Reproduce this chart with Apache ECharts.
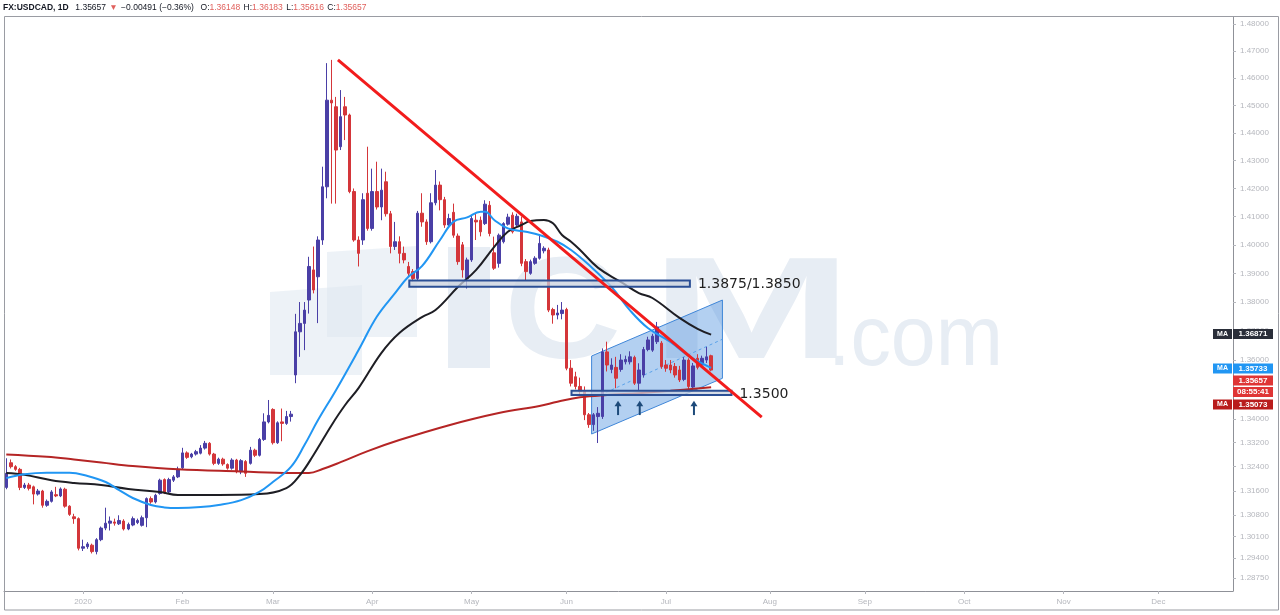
<!DOCTYPE html>
<html><head><meta charset="utf-8">
<script src="https://cdn.jsdelivr.net/npm/echarts@6.0.0/dist/echarts.min.js"></script>
<style>html,body{margin:0;padding:0;background:#fff}#c{width:1280px;height:615px}</style>
</head><body><div id="c"></div>
<script>
// ---------- DATA ----------
const firstDay = '2019-12-06', lastDay = '2020-12-23';
const holidays = ['2019-12-25', '2020-01-01'];
const monthNames = ['2020','Feb','Mar','Apr','May','Jun','Jul','Aug','Sep','Oct','Nov','Dec'];
const tickPrices = [1.48,1.47,1.46,1.45,1.44,1.43,1.42,1.41,1.40,1.39,1.38,1.37,1.36,1.35,1.34,1.332,1.324,1.316,1.308,1.301,1.294,1.2875];
// daily candles [open, close, low, high]
const ohlc = [
[1.3171,1.3218,1.3165,1.3268],[1.3253,1.3240,1.3234,1.3264],[1.3240,1.3231,1.3226,1.3245],[1.3231,1.3171,1.3162,1.3236],
[1.3171,1.3179,1.3166,1.3186],[1.3179,1.3168,1.3161,1.3186],[1.3173,1.3149,1.3115,1.3177],[1.3149,1.3159,1.3144,1.3166],
[1.3159,1.3112,1.3104,1.3163],[1.3112,1.3125,1.3107,1.3131],[1.3125,1.3156,1.3121,1.3162],[1.3147,1.3143,1.3139,1.3173],
[1.3143,1.3166,1.3139,1.3171],[1.3165,1.3109,1.3104,1.3170],[1.3109,1.3082,1.3077,1.3112],[1.3074,1.3068,1.3051,1.3084],
[1.3068,1.2971,1.2964,1.3072],[1.2971,1.2976,1.2962,1.2999],[1.2976,1.2985,1.2969,1.2991],[1.2981,1.2960,1.2954,1.2986],
[1.2960,1.2999,1.2951,1.3004],[1.2999,1.3037,1.2994,1.3042],[1.3037,1.3053,1.3030,1.3104],[1.3053,1.3060,1.3029,1.3075],
[1.3057,1.3053,1.3045,1.3068],[1.3051,1.3062,1.3047,1.3079],[1.3060,1.3034,1.3029,1.3066],[1.3034,1.3049,1.3030,1.3055],
[1.3047,1.3068,1.3043,1.3075],[1.3055,1.3062,1.3050,1.3068],[1.3046,1.3071,1.3042,1.3078],[1.3071,1.3134,1.3040,1.3138],
[1.3134,1.3123,1.3117,1.3141],[1.3123,1.3145,1.3118,1.3150],[1.3151,1.3195,1.3147,1.3200],[1.3197,1.3153,1.3149,1.3201],
[1.3156,1.3197,1.3151,1.3203],[1.3195,1.3206,1.3189,1.3212],[1.3206,1.3231,1.3202,1.3240],
[1.3236,1.3286,1.3231,1.3303],[1.3286,1.3271,1.3266,1.3291],[1.3273,1.3282,1.3268,1.3286],[1.3282,1.3290,1.3277,1.3296],
[1.3285,1.3302,1.3281,1.3312],[1.3302,1.3318,1.3297,1.3326],[1.3318,1.3282,1.3277,1.3322],[1.3282,1.3251,1.3245,1.3286],
[1.3251,1.3265,1.3246,1.3270],[1.3265,1.3249,1.3243,1.3270],[1.3247,1.3235,1.3230,1.3251],[1.3235,1.3262,1.3230,1.3268],
[1.3262,1.3223,1.3218,1.3266],[1.3223,1.3260,1.3215,1.3265],[1.3257,1.3218,1.3206,1.3262],[1.3251,1.3295,1.3247,1.3306],
[1.3295,1.3278,1.3272,1.3300],[1.3278,1.3331,1.3274,1.3336],[1.3331,1.3390,1.3326,1.3419],[1.3390,1.3412,1.3385,1.3464],
[1.3432,1.3320,1.3314,1.3436],[1.3320,1.3387,1.3316,1.3392],[1.3390,1.3385,1.3325,1.3435],[1.3385,1.3408,1.3380,1.3427],
[1.3408,1.3416,1.3391,1.3427],[1.3549,1.3697,1.3521,1.3759],[1.3697,1.3726,1.3611,1.3800],[1.3726,1.3772,1.3634,1.3800],
[1.3807,1.3924,1.3760,1.3958],[1.3912,1.3842,1.3830,1.3994],[1.3888,1.4017,1.3727,1.4030],[1.4017,1.4206,1.4000,1.4278],
[1.4206,1.4519,1.4165,1.4655],[1.4519,1.4509,1.4146,1.4667],[1.4495,1.4338,1.4146,1.4531],[1.4350,1.4459,1.4338,1.4556],
[1.4495,1.4465,1.4374,1.4531],[1.4465,1.4189,1.4183,1.4470],[1.4189,1.4017,1.4011,1.4200],[1.4017,1.3970,1.3924,1.4030],
[1.4017,1.4160,1.4000,1.4183],[1.4183,1.4058,1.4050,1.4350],[1.4058,1.4189,1.4050,1.4271],[1.4189,1.4134,1.4125,1.4296],
[1.4134,1.4194,1.4087,1.4271],[1.4224,1.4110,1.4100,1.4260],[1.4110,1.3994,1.3970,1.4120],[1.3994,1.4011,1.3982,1.4081],
[1.4011,1.3970,1.3935,1.4030],[1.3970,1.3947,1.3935,1.3994],[1.3924,1.3900,1.3890,1.3940],[1.3906,1.3882,1.3872,1.3915],
[1.3882,1.4112,1.3875,1.4120],[1.4112,1.4081,1.4064,1.4183],[1.4081,1.4011,1.4000,1.4090],[1.4011,1.4149,1.4005,1.4183],
[1.4149,1.4212,1.4140,1.4266],[1.4212,1.4160,1.4122,1.4225],[1.4160,1.4070,1.4060,1.4170],[1.4070,1.4093,1.4060,1.4110],
[1.4115,1.4034,1.4025,1.4146],[1.4031,1.3941,1.3930,1.4040],[1.4000,1.3912,1.3885,1.4010],[1.3882,1.3947,1.3847,1.3955],
[1.3947,1.4093,1.3940,1.4105],[1.4087,1.4081,1.4017,1.4110],[1.4087,1.4046,1.4030,1.4100],[1.4075,1.4144,1.4070,1.4158],
[1.4140,1.4040,1.4030,1.4155],[1.3972,1.3918,1.3912,1.4029],[1.3935,1.4034,1.3920,1.4040],[1.4011,1.4075,1.4005,1.4080],
[1.4073,1.4098,1.4068,1.4110],[1.4105,1.4046,1.4040,1.4115],[1.4070,1.4101,1.4065,1.4110],[1.4081,1.3935,1.3925,1.4100],
[1.3941,1.3906,1.3876,1.3950],[1.3900,1.3941,1.3895,1.3948],[1.3935,1.3953,1.3930,1.3960],[1.3953,1.4005,1.3948,1.4034],
[1.3979,1.3988,1.3970,1.3995],[1.3982,1.3772,1.3765,1.3990],[1.3774,1.3755,1.3725,1.3780],[1.3755,1.3762,1.3740,1.3790],
[1.3760,1.3772,1.3740,1.3800],[1.3774,1.3572,1.3565,1.3780],[1.3572,1.3521,1.3510,1.3600],[1.3543,1.3510,1.3500,1.3560],
[1.3510,1.3493,1.3480,1.3540],[1.3493,1.3414,1.3396,1.3510],[1.3414,1.3381,1.3370,1.3420],[1.3381,1.3414,1.3360,1.3420],
[1.3408,1.3419,1.3319,1.3440],[1.3408,1.3628,1.3400,1.3640],[1.3628,1.3583,1.3561,1.3663],[1.3568,1.3583,1.3555,1.3606],
[1.3575,1.3538,1.3504,1.3611],[1.3568,1.3600,1.3560,1.3620],[1.3594,1.3602,1.3585,1.3615],[1.3594,1.3611,1.3585,1.3630],
[1.3609,1.3521,1.3515,1.3615],[1.3521,1.3566,1.3498,1.3589],[1.3549,1.3636,1.3540,1.3645],[1.3636,1.3669,1.3630,1.3680],
[1.3634,1.3682,1.3628,1.3690],[1.3663,1.3714,1.3655,1.3731],[1.3658,1.3578,1.3570,1.3665],[1.3583,1.3572,1.3560,1.3600],
[1.3583,1.3566,1.3555,1.3600],[1.3578,1.3549,1.3540,1.3590],[1.3566,1.3532,1.3525,1.3580],[1.3534,1.3600,1.3528,1.3610],
[1.3600,1.3510,1.3500,1.3606],[1.3508,1.3580,1.3500,1.3590],[1.3606,1.3575,1.3568,1.3620],[1.3583,1.3606,1.3575,1.3615],
[1.3600,1.3611,1.3590,1.3645],[1.36148,1.35657,1.35616,1.36183]
];
// moving averages: [bar index, price]
const maBlue = [[0,1.3202],[4,1.3215],[9,1.3220],[14,1.3220],[18,1.3209],[22,1.3189],[25,1.3162],[28,1.3136],[32,1.3113],[35,1.3105],[38,1.3103],[43,1.3106],[47,1.3113],[52,1.3129],[56,1.3156],[59,1.3189],[63,1.3239],[66,1.3312],[69,1.3396],[73,1.3498],[78,1.3635],[82,1.3749],[86,1.3830],[89,1.3888],[92,1.3925],[96,1.4017],[99,1.4082],[102,1.4097],[105,1.4117],[106,1.4117],[108,1.4088],[111,1.4058],[115,1.4046],[118,1.4035],[122,1.4011],[125,1.3982],[129,1.3929],[134,1.3852],[138,1.3772],[142,1.3710],[147,1.3662],[151,1.3614],[156,1.35733]];
const maBlack = [[0,1.3219],[4,1.3213],[10,1.3195],[15,1.3186],[21,1.3179],[27,1.3166],[34,1.3156],[38,1.3146],[47,1.3146],[56,1.3149],[62,1.3169],[65,1.3212],[68,1.3279],[72,1.3379],[75,1.3447],[78,1.3505],[83,1.3624],[87,1.3693],[92,1.3748],[95,1.3772],[100,1.3853],[104,1.3912],[108,1.3993],[111,1.4046],[114,1.4070],[116,1.4084],[119,1.4088],[121,1.4076],[123,1.4035],[125,1.4011],[127,1.3982],[131,1.3919],[136,1.3870],[140,1.3831],[143,1.3814],[149,1.3745],[153,1.3707],[156,1.36871]];
const maRed = [[0,1.3281],[9,1.3273],[15,1.3264],[21,1.3254],[28,1.3242],[38,1.3231],[52,1.3224],[63,1.3219],[67,1.3219],[70,1.3232],[74,1.3255],[80,1.3292],[87,1.3329],[98,1.3379],[109,1.3420],[118,1.3444],[122,1.3458],[127,1.3473],[133,1.3481],[140,1.3487],[147,1.3495],[156,1.35073]];
// drawings
const trendLine = [[73.4,1.4667],[167.2,1.3406]];
const zones = [{x1:89.2,x2:151.3,top:1.3875,bottom:1.3853,label:'1.3875/1.3850'},{x1:125.1,x2:160.5,top:1.3495,bottom:1.3481,label:'1.3500'}];
const channel = [[129.55,1.36139],[158.5,1.38069],[158.5,1.35376],[129.55,1.33492]];
const channelMid = [[131.5,1.34810],[158.5,1.36714]];
const arrowBars = [135.4,140.2,152.2];
const arrowFrom = 1.3413, arrowTo = 1.3458;
const header = {sym:'FX:USDCAD, 1D', last:'1.35657', chg:'\u22120.00491 (\u22120.36%)', o:'1.36148', h:'1.36183', l:'1.35616', c:'1.35657'};
const sideLabels = [
  {ma:true, text:'1.36871', bg:'#2a2e39', y:329},
  {ma:true, text:'1.35733', bg:'#2196f3', y:363.5},
  {ma:false, text:'1.35657', bg:'#df3535', y:375.5},
  {ma:false, text:'08:55:41', bg:'#df3535', y:387},
  {ma:true, text:'1.35073', bg:'#b91c1c', y:399.5}
];

// ---------- BUILD ----------
const categories = [];
for (let t = Date.parse(firstDay + 'T00:00:00Z'); t <= Date.parse(lastDay + 'T00:00:00Z'); t += 86400000) {
  const d = new Date(t), wd = d.getUTCDay();
  const s = d.toISOString().slice(0, 10);
  if (wd === 0 || wd === 6 || holidays.includes(s)) continue;
  categories.push(s);
}
const N = categories.length;
const monthStart = new Set();
for (let i = 1; i < N; i++) if (categories[i].slice(5,7) !== categories[i-1].slice(5,7)) monthStart.add(i);
const L = Math.log;
const upC = '#4a3fa6', dnC = '#d4363a';
const lineData = arr => arr.map(p => [p[0], L(p[1])]);
const axisFont = '"Liberation Sans Narrow", "Liberation Sans", sans-serif';

const chart = echarts.init(document.getElementById('c'));
const graphics = [];
// watermark (ICM.com)
const wmA = 'rgba(222,231,241,0.55)', wm = '#e7edf4';
graphics.push({type:'polygon', z:0, shape:{points:[[270,292],[362,285],[362,375],[270,375]]}, style:{fill:wmA}});
graphics.push({type:'polygon', z:0, shape:{points:[[327,252],[417,246],[417,337],[327,337]]}, style:{fill:wmA}});
graphics.push({type:'rect', z:0, shape:{x:448, y:247, width:42, height:121}, style:{fill:wm}});
graphics.push({type:'text', z:0, x:504, y:391, scaleX:1.12, style:{text:'C', font:'bold 145px "Liberation Sans"', fill:wm, verticalAlign:'bottom'}});
graphics.push({type:'text', z:0, x:650, y:391, scaleX:1.68, style:{text:'M', font:'bold 145px "Liberation Sans"', fill:wm, verticalAlign:'bottom'}});
graphics.push({type:'text', z:0, x:828, y:384, scaleX:0.95, style:{text:'.com', font:'85px "Liberation Sans"', fill:wm, verticalAlign:'bottom'}});
// frame
graphics.push({type:'rect', z:50, shape:{x:4.5, y:16.5, width:1274, height:593.5}, style:{fill:'none', stroke:'#9a9ca3', lineWidth:1}});
// header
graphics.push({type:'text', z:60, x:3, y:2, style:{
  text:`{b|${header.sym}}  {n|${header.last}} {r|\u25BC} {n|${header.chg}}  {n|O:}{r|${header.o}} {n|H:}{r|${header.h}} {n|L:}{r|${header.l}} {n|C:}{r|${header.c}}`,
  rich:{b:{font:'bold 8.5px "Liberation Sans"', fill:'#131722'}, n:{font:'8.5px "Liberation Sans"', fill:'#131722'}, r:{font:'8.5px "Liberation Sans"', fill:'#e0605c'}},
  verticalAlign:'top'}});
// side labels on the price scale
sideLabels.forEach(s => {
  if (s.ma) {
    graphics.push({type:'rect', z:70, shape:{x:1213, y:s.y, width:19, height:10}, style:{fill:s.bg}});
    graphics.push({type:'text', z:71, x:1222.5, y:s.y+5, style:{text:'MA', font:'bold 7px "Liberation Sans"', fill:'#fff', align:'center', verticalAlign:'middle'}});
  }
  graphics.push({type:'rect', z:70, shape:{x:1233, y:s.y, width:40, height:10}, style:{fill:s.bg}});
  graphics.push({type:'text', z:71, x:1253, y:s.y+5, style:{text:s.text, font:'bold 8px "Liberation Sans"', fill:'#fff', align:'center', verticalAlign:'middle'}});
});

const option = {
  animation:false,
  backgroundColor:'#fff',
  grid:{left:4, right:47, top:17, bottom:24, containLabel:false},
  xAxis:[
    {type:'category', data:categories, boundaryGap:true, gridIndex:0,
     axisLine:{show:true, onZero:false, lineStyle:{color:'#8f9198', width:1}},
     axisTick:{show:true, interval:(i)=>monthStart.has(i), alignWithLabel:true, length:3, lineStyle:{color:'#b5b7bd'}},
     axisLabel:{interval:(i)=>monthStart.has(i), formatter:(v)=>monthNames[parseInt(v.slice(5,7),10)-1], color:'#b5b7bd', fontSize:8, fontFamily:axisFont, margin:7},
     splitLine:{show:false}},
    {type:'value', min:-0.5, max:N-0.5, show:false, gridIndex:0, axisLine:{onZero:false}}
  ],
  yAxis:[{type:'value', position:'right', min:L(1.28322), max:L(1.48261), scale:true,
    axisLine:{show:true, onZero:false, lineStyle:{color:'#8f9198'}},
    axisTick:{show:true, customValues:tickPrices.map(L), length:3, lineStyle:{color:'#b5b7bd'}},
    axisLabel:{customValues:tickPrices.map(L), formatter:(v)=>Math.exp(v).toFixed(5), color:'#b5b7bd', fontSize:8, fontFamily:axisFont, margin:7},
    splitLine:{show:false}}],
  graphic:{elements:graphics},
  series:[
    {type:'custom', name:'channel', xAxisIndex:1, yAxisIndex:0, z:1, silent:true, data:[[channel[0][0], L(channel[0][1])]],
     renderItem:(params, api)=>({type:'polygon', shape:{points:channel.map(p=>api.coord([p[0], L(p[1])]))},
       style:{fill:'rgba(74,144,222,0.42)', stroke:'#3f86d8', lineWidth:1}})},
    {type:'line', name:'channelMid', xAxisIndex:1, z:1, silent:true, symbol:'none', data:lineData(channelMid),
     lineStyle:{color:'#5aa2ea', width:1, type:[3,3]}},
    {type:'candlestick', name:'USDCAD', xAxisIndex:0, yAxisIndex:0, z:2, barWidth:3,
     data:ohlc.map(r=>[L(r[0]), L(r[1]), L(r[2]), L(r[3])]),
     itemStyle:{color:upC, color0:dnC, borderColor:upC, borderColor0:dnC, borderWidth:1}},
    {type:'line', name:'MA200', xAxisIndex:1, z:3, silent:true, symbol:'none', smooth:0.4, data:lineData(maRed), lineStyle:{color:'#b52525', width:2}},
    {type:'line', name:'MA100', xAxisIndex:1, z:3, silent:true, symbol:'none', smooth:0.4, data:lineData(maBlack), lineStyle:{color:'#1e1e24', width:2}},
    {type:'line', name:'MA50', xAxisIndex:1, z:3, silent:true, symbol:'none', smooth:0.4, data:lineData(maBlue), lineStyle:{color:'#2196f3', width:2}},
    {type:'custom', name:'zones', xAxisIndex:1, yAxisIndex:0, z:4, silent:true, data:zones.map(zn=>[zn.x1, L(zn.top)]),
     renderItem:(params, api)=>{
       const zn = zones[params.dataIndex];
       const a = api.coord([zn.x1, L(zn.top)]), b = api.coord([zn.x2, L(zn.bottom)]);
       return {type:'group', children:[
         {type:'rect', shape:{x:a[0], y:a[1], width:b[0]-a[0], height:b[1]-a[1]}, style:{fill:'rgba(200,208,222,0.75)', stroke:'#2b4f95', lineWidth:2}},
         {type:'text', x:b[0]+8, y:(a[1]+b[1])/2+1, style:{text:zn.label, font:'14px "DejaVu Sans"', fill:'#1f1f1f', align:'left', verticalAlign:'middle'}}
       ]};
     }},
    {type:'line', name:'trend', xAxisIndex:1, z:5, silent:true, symbol:'none', data:lineData(trendLine), lineStyle:{color:'#f21c1c', width:3}},
    {type:'custom', name:'arrows', xAxisIndex:1, yAxisIndex:0, z:6, silent:true, data:arrowBars.map(b=>[b, L(arrowFrom)]),
     renderItem:(params, api)=>{
       const bx = arrowBars[params.dataIndex];
       const a = api.coord([bx, L(arrowFrom)]), b = api.coord([bx, L(arrowTo)]);
       return {type:'group', children:[
         {type:'line', shape:{x1:a[0], y1:a[1], x2:b[0], y2:b[1]+3}, style:{stroke:'#1d4a7a', lineWidth:2}},
         {type:'polygon', shape:{points:[[b[0], b[1]-1], [b[0]-3.5, b[1]+4.5], [b[0]+3.5, b[1]+4.5]]}, style:{fill:'#1d4a7a'}}
       ]};
     }}
  ]
};
chart.setOption(option);
</script>
</body></html>
